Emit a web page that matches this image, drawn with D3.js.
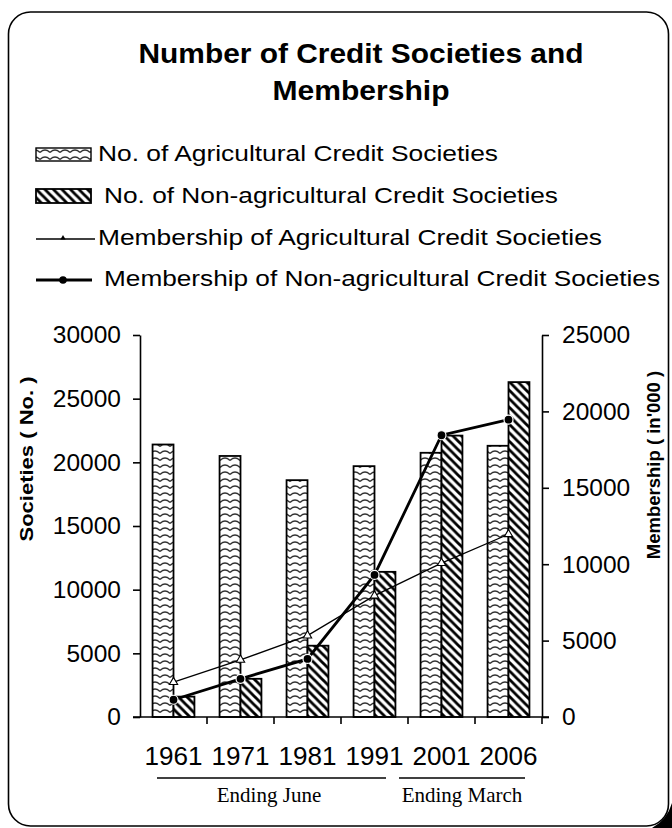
<!DOCTYPE html>
<html>
<head>
<meta charset="utf-8">
<script src="https://cdn.jsdelivr.net/npm/d3@7"></script>
<style>
  html, body { margin: 0; padding: 0; background: #fff; }
  svg { display: block; }
  text { font-family: Arial, "Liberation Sans", sans-serif; fill: #000; }
</style>
</head>
<body>
<svg id="chart" width="672" height="828"></svg>
<script>
// ---------------- data ----------------
const years = ["1961", "1971", "1981", "1991", "2001", "2006"];
const agriSocieties = [21400, 20500, 18600, 19700, 20750, 21300];
const nonAgriSocieties = [1600, 3000, 5600, 11400, 22100, 26300];
const agriMembership = [2280, 3740, 5330, 7940, 10070, 11960];
const nonAgriMembership = [1130, 2500, 3800, 9300, 18440, 19460];
const leftTicks = [0, 5000, 10000, 15000, 20000, 25000, 30000];
const rightTicks = [0, 5000, 10000, 15000, 20000, 25000];
const titleLines = ["Number of Credit Societies and", "Membership"];
const legendLabels = [
  "No. of Agricultural Credit Societies",
  "No. of Non-agricultural Credit Societies",
  "Membership of Agricultural Credit Societies",
  "Membership of Non-agricultural Credit Societies"
];
const leftTitle = "Societies ( No. )";
const rightTitle = "Membership ( in'000 )";
const periodLabels = ["Ending June", "Ending March"];

// ---------------- layout ----------------
const svg = d3.select("#chart");
const plot = { left: 140, right: 542, top: 335, bottom: 717 };

const defs = svg.append("defs");
const pa = defs.append("pattern").attr("id", "pAgri").attr("patternUnits", "userSpaceOnUse")
  .attr("width", 10).attr("height", 7);
pa.append("rect").attr("width", 10).attr("height", 7).attr("fill", "#fff");
pa.append("path").attr("d", "M0,5.5 Q5,0.5 10,5.5").attr("fill", "none")
  .attr("stroke", "#333").attr("stroke-width", 1.3);
const pn = defs.append("pattern").attr("id", "pNon").attr("patternUnits", "userSpaceOnUse")
  .attr("width", 8.5).attr("height", 8.5);
pn.append("rect").attr("width", 8.5).attr("height", 8.5).attr("fill", "#fff");
pn.append("path").attr("d", "M0,0 L8.5,8.5 M-4.25,4.25 L4.25,12.75 M4.25,-4.25 L12.75,4.25")
  .attr("stroke", "#000").attr("stroke-width", 2.8);

// frame
svg.append("rect").attr("x", 8.5).attr("y", 12).attr("width", 660).attr("height", 814)
  .attr("rx", 22).attr("fill", "none").attr("stroke", "#000").attr("stroke-width", 1.6);
svg.append("path").attr("d", "M672,803 L672,828 L652,828 Q667,820 672,803Z").attr("fill", "#000");

// title
svg.selectAll("text.title").data(titleLines).join("text")
  .attr("class", "title")
  .attr("x", 361).attr("y", (d, i) => 63 + i * 37)
  .attr("text-anchor", "middle")
  .attr("font-size", 28).attr("font-weight", "bold")
  .attr("textLength", (d, i) => [445, 177][i]).attr("lengthAdjust", "spacingAndGlyphs")
  .text(d => d);

// scales
const x = d3.scaleBand().domain(years).range([plot.left, plot.right]).padding(0);
const xs = d3.scaleBand().domain(["agri", "non"]).range([0, x.bandwidth()])
  .paddingInner(0).paddingOuter(0.6);
const yL = d3.scaleLinear().domain([0, 30000]).range([plot.bottom, plot.top]);
const yR = d3.scaleLinear().domain([0, 25000]).range([plot.bottom, plot.top]);

// bars
const rows = years.map((y, i) => ({ year: y, agri: agriSocieties[i], non: nonAgriSocieties[i],
  ma: agriMembership[i], mn: nonAgriMembership[i] }));
const barG = svg.append("g");
barG.selectAll("rect.agri").data(rows).join("rect")
  .attr("x", d => x(d.year) + xs("agri")).attr("width", xs.bandwidth())
  .attr("y", d => yL(d.agri)).attr("height", d => yL(0) - yL(d.agri))
  .attr("fill", "url(#pAgri)").attr("stroke", "#000").attr("stroke-width", 1.8);
barG.selectAll("rect.non").data(rows).join("rect")
  .attr("x", d => x(d.year) + xs("non")).attr("width", xs.bandwidth())
  .attr("y", d => yL(d.non)).attr("height", d => yL(0) - yL(d.non))
  .attr("fill", "url(#pNon)").attr("stroke", "#000").attr("stroke-width", 1.8);

// axes
const axL = svg.append("g").attr("transform", `translate(${plot.left},0)`)
  .call(d3.axisLeft(yL).tickValues(leftTicks).tickSize(7).tickSizeOuter(0).tickPadding(12)
    .tickFormat(d3.format("d")));
const axR = svg.append("g").attr("transform", `translate(${plot.right},0)`)
  .call(d3.axisRight(yR).tickValues(rightTicks).tickSize(7).tickSizeOuter(0).tickPadding(13)
    .tickFormat(d3.format("d")));
[axL, axR].forEach(a => {
  a.selectAll("path, line").attr("stroke", "#000").attr("stroke-width", 1.6);
  a.selectAll("text").attr("font-size", 24.5).attr("font-family", "Arial, 'Liberation Sans', sans-serif");
});

const axB = svg.append("g").attr("transform", `translate(0,${plot.bottom})`)
  .call(d3.axisBottom(x).tickSize(0).tickPadding(30));
axB.select("path.domain").attr("d", `M${plot.left - 7},0H${plot.right + 7}`)
  .attr("stroke", "#000").attr("stroke-width", 1.6);
axB.selectAll("text").attr("font-size", 25).attr("font-family", "Arial, 'Liberation Sans', sans-serif")
  .attr("textLength", 58).attr("lengthAdjust", "spacingAndGlyphs");
axB.selectAll("line.bt").data(years.slice(1).concat(["end"])).join("line")
  .attr("class", "bt")
  .attr("x1", d => d === "end" ? plot.right : x(d)).attr("x2", d => d === "end" ? plot.right : x(d))
  .attr("y1", 0).attr("y2", 7).attr("stroke", "#000").attr("stroke-width", 1.6);

// lines
const lineA = d3.line().x(d => x(d.year) + x.bandwidth() / 2).y(d => yR(d.ma));
const lineN = d3.line().x(d => x(d.year) + x.bandwidth() / 2).y(d => yR(d.mn));
svg.append("path").datum(rows).attr("d", lineA).attr("fill", "none")
  .attr("stroke", "#000").attr("stroke-width", 1.3);
svg.append("path").datum(rows).attr("d", lineN).attr("fill", "none")
  .attr("stroke", "#000").attr("stroke-width", 2.8);
const tri = d3.symbol().type(d3.symbolTriangle).size(30);
svg.selectAll("path.tri").data(rows).join("path").attr("class", "tri")
  .attr("transform", d => `translate(${x(d.year) + x.bandwidth() / 2},${yR(d.ma)})`)
  .attr("d", tri).attr("fill", "#fff").attr("stroke", "#000").attr("stroke-width", 1.1);
svg.selectAll("circle.dot").data(rows).join("circle").attr("class", "dot")
  .attr("cx", d => x(d.year) + x.bandwidth() / 2).attr("cy", d => yR(d.mn))
  .attr("r", 4.5).attr("fill", "#000").attr("stroke", "#fff").attr("stroke-width", 1.2);

// axis titles
svg.append("text").attr("transform", "translate(33,459) rotate(-90)")
  .attr("text-anchor", "middle").attr("font-size", 19).attr("font-weight", "bold")
  .attr("textLength", 165).attr("lengthAdjust", "spacingAndGlyphs").text(leftTitle);
svg.append("text").attr("transform", "translate(660,465) rotate(-90)")
  .attr("text-anchor", "middle").attr("font-size", 18.5).attr("font-weight", "bold")
  .text(rightTitle);

// period underlines and labels
const periods = [
  { label: periodLabels[0], x1: x("1961") + 17, x2: x("1991") + 45, cx: 269 },
  { label: periodLabels[1], x1: x("2001") - 9, x2: x("2006") + 50, cx: 462 }
];
svg.selectAll("line.period").data(periods).join("line").attr("class", "period")
  .attr("x1", d => d.x1).attr("x2", d => d.x2).attr("y1", 778).attr("y2", 778)
  .attr("stroke", "#000").attr("stroke-width", 1.6);
svg.selectAll("text.period").data(periods).join("text").attr("class", "period")
  .attr("x", d => d.cx).attr("y", 802).attr("text-anchor", "middle")
  .style("font-family", "'Liberation Serif', 'Times New Roman', serif").attr("font-size", 21)
  .text(d => d.label);

// legend
const legY = [161, 203, 245, 286];
const legX = [98, 104, 98, 104];
const legW = [400, 454, 504, 556];
const lg = svg.append("g");
lg.append("rect").attr("x", 36).attr("y", legY[0] - 13).attr("width", 55).attr("height", 13)
  .attr("fill", "url(#pAgri)").attr("stroke", "#000").attr("stroke-width", 1.4);
lg.append("rect").attr("x", 36).attr("y", legY[1] - 14).attr("width", 55).attr("height", 14)
  .attr("fill", "url(#pNon)").attr("stroke", "#000").attr("stroke-width", 1.8);
lg.append("line").attr("x1", 36).attr("x2", 95).attr("y1", legY[2] - 6).attr("y2", legY[2] - 6)
  .attr("stroke", "#000").attr("stroke-width", 1.3);
lg.append("path").attr("transform", `translate(63,${legY[2] - 7})`)
  .attr("d", d3.symbol().type(d3.symbolTriangle).size(12)).attr("fill", "#000");
lg.append("line").attr("x1", 36).attr("x2", 92).attr("y1", legY[3] - 6).attr("y2", legY[3] - 6)
  .attr("stroke", "#000").attr("stroke-width", 2.8);
lg.append("circle").attr("cx", 63).attr("cy", legY[3] - 6).attr("r", 3.8).attr("fill", "#000");
lg.selectAll("text").data(legendLabels).join("text")
  .attr("x", (d, i) => legX[i]).attr("y", (d, i) => legY[i])
  .attr("font-size", 22).attr("textLength", (d, i) => legW[i])
  .attr("lengthAdjust", "spacingAndGlyphs").text(d => d);
</script>
</body>
</html>
